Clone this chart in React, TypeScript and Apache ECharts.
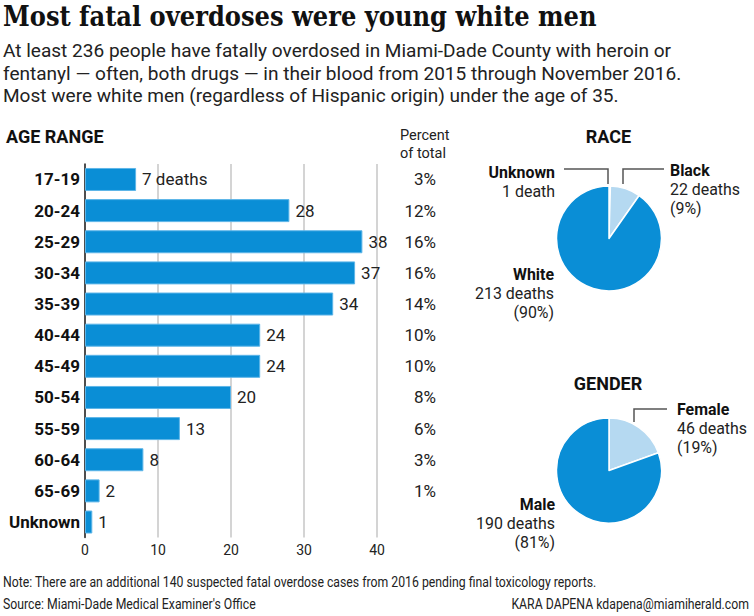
import React, { useEffect, useRef } from "react";
import * as echarts from "echarts";

// ---- data ----
const ageRanges = ["17-19", "20-24", "25-29", "30-34", "35-39", "40-44", "45-49", "50-54", "55-59", "60-64", "65-69", "Unknown"];
const ageDeaths = [7, 28, 38, 37, 34, 24, 24, 20, 13, 8, 2, 1];
const agePercent = ["3%", "12%", "16%", "16%", "14%", "10%", "10%", "8%", "6%", "3%", "1%", ""];
const ageTickMax = 40;
const ageTickStep = 10;

const raceNames = ["Unknown", "Black", "White"];
const raceDeaths = [1, 22, 213];
const racePercent = ["", "9%", "90%"];

const genderNames = ["Female", "Male"];
const genderDeaths = [46, 190];
const genderPercent = ["19%", "81%"];

const titleText = "Most fatal overdoses were young white men";
const introLines = [
  "At least 236 people have fatally overdosed in Miami-Dade County with heroin or",
  "fentanyl \u2014 often, both drugs \u2014 in their blood from 2015 through November 2016.",
  "Most were white men (regardless of Hispanic origin) under the age of 35.",
];
const noteText = "Note: There are an additional 140 suspected fatal overdose cases from 2016 pending final toxicology reports.";
const sourceText = "Source: Miami-Dade Medical Examiner's Office";
const creditText = "KARA DAPENA kdapena@miamiherald.com";

// ---- styling ----
const BLUE = "#0a8ed6";
const PALE = "#b5d9f1";
const INK = "#111111";
const SANS = "Roboto, 'Noto Sans', sans-serif";
const SERIF = "'DejaVu Serif', 'Liberation Serif', serif";

const measureCanvas = document.createElement("canvas");
function textWidth(text: string, font: string): number {
  const ctx = measureCanvas.getContext("2d");
  if (!ctx) return 0;
  ctx.font = font;
  return ctx.measureText(text).width;
}
function fitScale(text: string, font: string, target: number): number {
  const w = textWidth(text, font);
  return w > 0 ? target / w : 1;
}

function deathsLabel(n: number): string {
  return n === 1 ? `${n} death` : `${n} deaths`;
}

type TextOpts = {
  x: number;
  y: number;
  size: number;
  weight?: string;
  family?: string;
  align?: string;
  color?: string;
  scaleX?: number;
};
function txt(text: string, o: TextOpts) {
  const align = o.align || "left";
  return {
    type: "text",
    x: o.x,
    y: o.y,
    scaleX: o.scaleX ?? 1,
    silent: true,
    style: {
      text,
      fill: o.color || INK,
      fontSize: o.size,
      fontWeight: o.weight || "normal",
      fontFamily: o.family || SANS,
      align,
      textAlign: align,
      verticalAlign: "middle",
      textVerticalAlign: "middle",
    },
  };
}
function leader(points: number[][]) {
  return {
    type: "polyline",
    silent: true,
    shape: { points },
    style: { stroke: "#555555", lineWidth: 1.5, fill: null },
  };
}

// stacked label block: bold name, then count, then optional share
function labelBlock(name: string, deaths: number, share: string, x: number, y: number, align: string, k: number) {
  const lines: any[] = [txt(name, { x, y, size: 17, weight: "bold", align, scaleX: k })];
  lines.push(txt(deathsLabel(deaths), { x, y: y + 19, size: 17, align, color: "#222", scaleX: k }));
  if (share) lines.push(txt(`(${share})`, { x, y: y + 38, size: 17, align, color: "#222", scaleX: k }));
  return lines;
}

function buildOption() {
  const titleFont = `bold 28px ${SERIF}`;
  const titleScale = fitScale(titleText, titleFont, 594);
  const introFont = `18px ${SANS}`;
  const introScale = fitScale(introLines[1], introFont, 679);
  const noteFont = `14px ${SANS}`;
  const noteScale = fitScale(noteText, noteFont, 594);
  const labelScale = fitScale("213 deaths", `17px ${SANS}`, 79);

  const graphics: any[] = [
    txt(titleText, { x: 3, y: 16, size: 28, weight: "bold", family: SERIF, scaleX: titleScale }),
    ...introLines.map((line, i) => txt(line, { x: 3, y: 51 + i * 22.7, size: 18, color: "#222", scaleX: introScale })),
    txt("AGE RANGE", { x: 6, y: 136, size: 18, weight: "bold" }),
    txt("Percent", { x: 400, y: 135, size: 15.5, color: "#222", scaleX: labelScale }),
    txt("of total", { x: 400, y: 153, size: 15.5, color: "#222", scaleX: labelScale }),
    txt("RACE", { x: 608.5, y: 136, size: 18, weight: "bold", align: "center" }),
    txt("GENDER", { x: 608, y: 383, size: 18, weight: "bold", align: "center" }),
    // race labels
    ...labelBlock(raceNames[0], raceDeaths[0], racePercent[0], 555, 172, "right", labelScale),
    ...labelBlock(raceNames[1], raceDeaths[1], racePercent[1], 670, 170, "left", labelScale),
    ...labelBlock(raceNames[2], raceDeaths[2], racePercent[2], 554, 274, "right", labelScale),
    leader([[564, 169], [608, 169], [608, 184]]),
    leader([[623, 184], [623, 169], [664, 169]]),
    // gender labels
    ...labelBlock(genderNames[0], genderDeaths[0], genderPercent[0], 677, 409, "left", labelScale),
    ...labelBlock(genderNames[1], genderDeaths[1], genderPercent[1], 555, 504, "right", labelScale),
    leader([[634, 422], [634, 409], [667, 409]]),
    // footer
    txt(noteText, { x: 3, y: 582, size: 14, color: "#222", scaleX: noteScale }),
    txt(sourceText, { x: 3, y: 604, size: 14, color: "#222", scaleX: noteScale }),
    txt(creditText, { x: 749, y: 604, size: 14, color: "#222", align: "right", scaleX: noteScale }),
  ];

  const pieCommon = {
    type: "pie",
    radius: 52.5,
    startAngle: 90,
    clockwise: true,
    silent: true,
    emphasis: { disabled: true },
    label: { show: false },
    labelLine: { show: false },
    itemStyle: { borderColor: "#ffffff", borderWidth: 1.5 },
  };

  return {
    animation: false,
    backgroundColor: "#ffffff",
    textStyle: { fontFamily: SANS },
    grid: { left: 85, top: 163.9, width: 292, height: 373.7, containLabel: false },
    xAxis: {
      type: "value",
      min: 0,
      max: ageTickMax,
      interval: ageTickStep,
      axisLine: { show: false },
      axisTick: { show: false },
      axisLabel: { fontSize: 14, color: "#222", margin: 5, fontFamily: SANS },
      splitLine: { show: true, lineStyle: { color: "#c6c6c6", width: 1.5 } },
    },
    yAxis: [
      {
        type: "category",
        data: ageRanges,
        inverse: true,
        axisLine: { show: true, lineStyle: { color: "#222", width: 1.5 } },
        axisTick: { show: false },
        axisLabel: { fontSize: 17, fontWeight: "bold", color: INK, margin: 5, fontFamily: SANS },
      },
      {
        type: "category",
        data: ageRanges,
        inverse: true,
        position: "right",
        axisLine: { show: false },
        axisTick: { show: false },
        axisLabel: {
          fontSize: 17,
          color: "#222",
          align: "right",
          margin: 59,
          fontFamily: SANS,
          formatter: (_v: string, i: number) => agePercent[i],
        },
      },
    ],
    series: [
      {
        type: "bar",
        yAxisIndex: 0,
        data: ageDeaths,
        barWidth: 23,
        silent: true,
        itemStyle: { color: BLUE, borderColor: "#5db5e8", borderWidth: 1 },
        label: {
          show: true,
          position: "right",
          distance: 6,
          fontSize: 17,
          color: "#222",
          fontFamily: SANS,
          formatter: (p: any) => (p.dataIndex === 0 ? deathsLabel(p.value) : `${p.value}`),
        },
      },
      {
        ...pieCommon,
        center: [609, 238.5],
        data: raceNames.map((name, i) => ({
          name,
          value: raceDeaths[i],
          itemStyle: { color: i === 2 ? BLUE : PALE },
        })),
      },
      {
        ...pieCommon,
        center: [609, 470.5],
        data: genderNames.map((name, i) => ({
          name,
          value: genderDeaths[i],
          itemStyle: { color: i === 1 ? BLUE : PALE },
        })),
      },
    ],
    graphic: { elements: graphics },
  };
}

export default function App() {
  const ref = useRef<HTMLDivElement>(null);
  useEffect(() => {
    if (!ref.current) return;
    const chart = echarts.init(ref.current, null, { renderer: "svg" });
    chart.setOption(buildOption() as any);
    return () => chart.dispose();
  }, []);
  return (
    <div
      ref={ref}
      style={{ position: "absolute", left: 0, top: 0, width: 754, height: 616, background: "#fff" }}
    />
  );
}
